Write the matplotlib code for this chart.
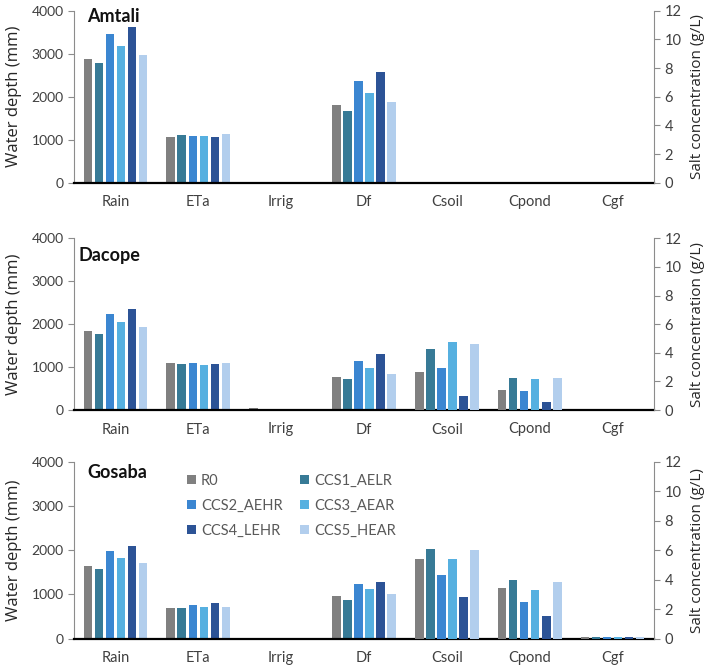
import numpy as np
import matplotlib
matplotlib.use("Agg")
import matplotlib.pyplot as plt
from matplotlib.patches import Patch

plt.rcParams['font.family'] = ['Lato', 'DejaVu Sans']

categories = ["Rain", "ETa", "Irrig", "Df", "Csoil", "Cpond", "Cgf"]
depth_cats = ["Rain", "ETa", "Irrig", "Df"]
conc_cats = ["Csoil", "Cpond", "Cgf"]
scenarios = ["R0", "CCS1_AELR", "CCS2_AEHR", "CCS3_AEAR", "CCS4_LEHR", "CCS5_HEAR"]
colors = ["#808080", "#377A96", "#3B86D1", "#56B0E0", "#2C5396", "#B2CEED"]

# water depth (mm): rows = scenarios, cols = Rain, ETa, Irrig, Df
amtali_depth = [
    [2868, 1070, 0, 1810],
    [2775, 1108, 0, 1679],
    [3457, 1093, 0, 2375],
    [3171, 1093, 0, 2097],
    [3628, 1054, 0, 2584],
    [2977, 1132, 0, 1888],
]
# salt concentration (g/L): cols = Csoil, Cpond, Cgf
amtali_conc = [[0, 0, 0]] * 6

dacope_depth = [
    [1848, 1103, 45, 777],
    [1771, 1080, 0, 715],
    [2229, 1103, 0, 1142],
    [2043, 1041, 0, 987],
    [2346, 1064, 0, 1297],
    [1926, 1103, 0, 839],
]
dacope_conc = [
    [2.68, 1.42, 0],
    [4.26, 2.25, 0],
    [2.96, 1.33, 0],
    [4.73, 2.18, 0],
    [1.00, 0.53, 0],
    [4.61, 2.25, 0],
]

gosaba_depth = [
    [1654, 699, 0, 955],
    [1586, 699, 0, 880],
    [1992, 752, 0, 1233],
    [1827, 714, 0, 1120],
    [2098, 805, 0, 1286],
    [1714, 714, 0, 1008],
]
gosaba_conc = [
    [5.41, 3.43, 0.14],
    [6.05, 3.98, 0.14],
    [4.31, 2.50, 0.14],
    [5.37, 3.27, 0.14],
    [2.82, 1.57, 0.14],
    [5.98, 3.84, 0.14],
]

W, H = 710, 667
# (name, depth, conc, [left, top, right, bottom] in px, title pos px)
panels = [
    ("Amtali", amtali_depth, amtali_conc, (74, 10.7, 654, 182.7), (87, 17)),
    ("Dacope", dacope_depth, dacope_conc, (74, 238.3, 654, 410.0), (79, 255)),
    ("Gosaba", gosaba_depth, gosaba_conc, (74, 461.7, 654, 638.7), (87, 472)),
]

fig = plt.figure(figsize=(W / 100, H / 100), dpi=100)

pitch = 0.133
bw = 0.103
tick_col = "#404040"
spine_col = "#8C8C8C"

for name, depth, conc, (l, t, r, b), (tx, ty) in panels:
    ax = fig.add_axes([l / W, 1 - b / H, (r - l) / W, (b - t) / H])
    ax2 = ax.twinx()
    xd = np.arange(len(depth_cats))
    xc = np.arange(len(depth_cats), len(categories))
    for i, sc in enumerate(scenarios):
        off = (i - 2.5) * pitch
        ax.bar(xd + off, depth[i], width=bw, color=colors[i], zorder=2)
        ax2.bar(xc + off, conc[i], width=bw, color=colors[i], zorder=2)
    ax.set_xlim(-0.5, len(categories) - 0.5)
    ax.set_ylim(0, 4000)
    ax2.set_ylim(0, 12)
    ax.set_yticks(np.arange(0, 4001, 1000))
    ax2.set_yticks(np.arange(0, 13, 2))
    ax.set_xticks(np.arange(len(categories)))
    ax.set_xticklabels(categories)
    ax.tick_params(axis='x', length=0, pad=9, labelsize=10.5, labelcolor=tick_col)
    ax.tick_params(axis='y', direction='out', length=4, color=spine_col,
                   labelsize=10, labelcolor=tick_col)
    ax2.tick_params(axis='y', direction='out', length=4, color=spine_col,
                    labelsize=10.5, labelcolor=tick_col)
    for a in (ax, ax2):
        a.spines['top'].set_visible(False)
    ax.spines['right'].set_visible(False)
    ax2.spines['left'].set_visible(False)
    ax.spines['left'].set_color(spine_col)
    ax2.spines['right'].set_color(spine_col)
    ax.spines['bottom'].set_color("#000000")
    ax.spines['bottom'].set_linewidth(1.6)
    ax2.spines['bottom'].set_visible(False)
    ax.set_ylabel("Water depth (mm)", fontsize=12, color="#262626",
                  family=['Open Sans', 'DejaVu Sans'], labelpad=7)
    ax2.set_ylabel("Salt concentration (g/L)", fontsize=11, color="#262626",
                   family=['Open Sans', 'DejaVu Sans'], labelpad=6)
    fig.text(tx / W, 1 - ty / H, name, fontsize=13, fontweight='bold',
             va='center', ha='left', color="#111111")
    if name == "Gosaba":
        order = [0, 2, 4, 1, 3, 5]
        handles = [Patch(facecolor=colors[k], label=scenarios[k]) for k in order]
        ax.legend(handles=handles, ncol=2, loc='upper left',
                  bbox_to_anchor=((187 - l) / (r - l), 1 - (474 - t) / (b - t)),
                  frameon=False, borderpad=0, borderaxespad=0,
                  fontsize=10.5, handlelength=0.6, handleheight=0.6,
                  handletextpad=0.35, columnspacing=1.2, labelspacing=0.75,
                  labelcolor="#595959")

fig.savefig("out.png", dpi=100)
